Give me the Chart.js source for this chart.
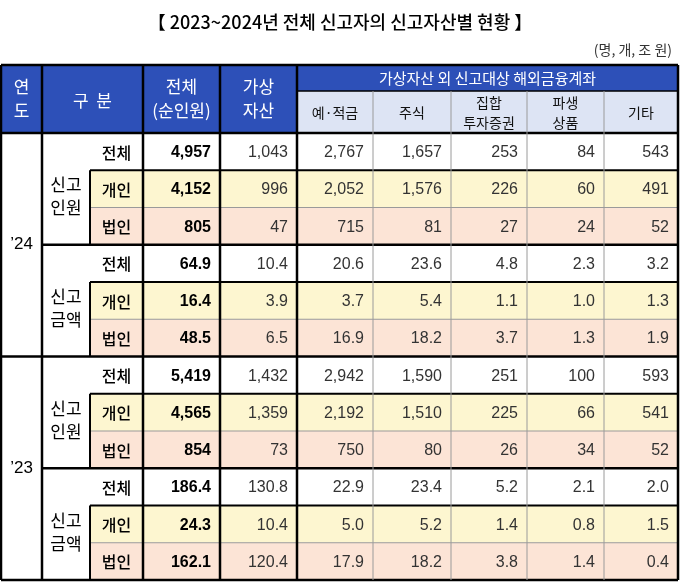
<!DOCTYPE html>
<html><head><meta charset="utf-8">
<script src="https://cdn.jsdelivr.net/npm/chart.js@4"></script>
<style>html,body{margin:0;padding:0;background:#fff}#w{width:680px;height:582px}</style>
</head><body><div id="w"><canvas id="c"></canvas></div>
<script>
const years = ["’24", "’23"];
const groups = ["신고\n인원", "신고\n금액"];
const rowTypes = ["전체", "개인", "법인"];
const columns = ["전체\n(순인원)", "가상\n자산", "예·적금", "주식", "집합\n투자증권", "파생\n상품", "기타"];
const y24count = [[4957,1043,2767,1657,253,84,543],[4152,996,2052,1576,226,60,491],[805,47,715,81,27,24,52]];
const y24amount = [[64.9,10.4,20.6,23.6,4.8,2.3,3.2],[16.4,3.9,3.7,5.4,1.1,1.0,1.3],[48.5,6.5,16.9,18.2,3.7,1.3,1.9]];
const y23count = [[5419,1432,2942,1590,251,100,593],[4565,1359,2192,1510,225,66,541],[854,73,750,80,26,34,52]];
const y23amount = [[186.4,130.8,22.9,23.4,5.2,2.1,2.0],[24.3,10.4,5.0,5.2,1.4,0.8,1.5],[162.1,120.4,17.9,18.2,3.8,1.4,0.4]];
const blocks = [y24count, y24amount, y23count, y23amount];

const colEdges = [1,42,90,143,220,297,373,451,527,604,678];
const rowTop = 133, rowH = 37.25, headTop = 65, headMid = 91;
const F = '"Noto Sans CJK KR", "Noto Sans", sans-serif';
const N = '"Liberation Sans", "Noto Sans CJK KR", sans-serif';

const tablePlugin = {
  id: 'table',
  afterDraw(chart) {
    const ctx = chart.ctx, xs = chart.scales.x, ys = chart.scales.y;
    const X = v => xs.getPixelForValue(v), Y = v => ys.getPixelForValue(v);
    const rect = (x0,y0,x1,y1,c)=>{ctx.fillStyle=c;ctx.fillRect(X(x0),Y(y0),X(x1)-X(x0),Y(y1)-Y(y0));};
    const line = (x0,y0,x1,y1,c,w)=>{ctx.strokeStyle=c;ctx.lineWidth=w;ctx.beginPath();ctx.moveTo(X(x0),Y(y0));ctx.lineTo(X(x1),Y(y1));ctx.stroke();};
    const text = (s,x,y,align,font,color,lh)=>{
      ctx.font=font;ctx.fillStyle=color;ctx.textAlign=align;ctx.textBaseline='middle';
      const parts=s.split('\n');const h=lh||22;
      parts.forEach((p,i)=>ctx.fillText(p,X(x),Y(y+(i-(parts.length-1)/2)*h)));
    };
    ctx.save();
    text("【 2023~2024년 전체 신고자의 신고자산별 현황 】",340,22,'center','500 18px '+F,'#000');
    text("(명, 개, 조 원)",672,50,'right','14px '+F,'#333');
    const blue='#2D50B8', light='#DDE4F4';
    rect(colEdges[0],headTop,colEdges[10],rowTop,blue);
    rect(colEdges[5],headMid,colEdges[10],rowTop,light);
    const nRows = 12;
    for(let r=0;r<nRows;r++){
      const t=r%3, y0=rowTop+r*rowH, y1=y0+rowH;
      if(t===1) rect(colEdges[2],y0,colEdges[10],y1,'#FDF6D0');
      if(t===2) rect(colEdges[2],y0,colEdges[10],y1,'#FCE4D6');
    }
    const hf='17px '+F;
    text("연\n도",(colEdges[0]+colEdges[1])/2,99,'center',hf,'#fff',24);
    text("구  분",(colEdges[1]+colEdges[3])/2,101,'center',hf,'#fff');
    text(columns[0],(colEdges[3]+colEdges[4])/2,99,'center',hf,'#fff',24);
    text(columns[1],(colEdges[4]+colEdges[5])/2,99,'center',hf,'#fff',24);
    text("가상자산 외 신고대상 해외금융계좌",(colEdges[5]+colEdges[10])/2,78,'center','15px '+F,'#fff');
    for(let c=2;c<7;c++) text(columns[c],(colEdges[c+3]+colEdges[c+4])/2,113,'center','14px '+F,'#111',20);
    blocks.forEach((blk,b)=>{
      const isCount = b%2===0;
      blk.forEach((row,t)=>{
        const r=b*3+t, yc=rowTop+r*rowH+rowH/2+1;
        text(rowTypes[t],(colEdges[2]+colEdges[3])/2,yc,'center','500 16px '+F,'#000');
        row.forEach((v,c)=>{
          const s=isCount? v.toLocaleString('en-US') : v.toFixed(1);
          text(s,colEdges[c+3+1]-9,yc,'right',(c===0?'bold ':'')+'16px '+N,c===0?'#000':'#333');
        });
      });
      text(groups[b%2],(colEdges[1]+colEdges[2])/2,rowTop+b*3*rowH+rowH*1.7,'center','17px '+F,'#000',23);
    });
    years.forEach((yl,i)=>text(yl,(colEdges[0]+colEdges[1])/2,rowTop+(i*6+3)*rowH,'center','17px '+N,'#000'));
    const grey='#9a9a9a', blk='#000';
    for(let r=1;r<nRows;r++){
      const y=rowTop+r*rowH, t=r%3;
      if(r%6===0) line(colEdges[0],y,colEdges[10],y,blk,2.5);
      else if(t===0) line(colEdges[1],y,colEdges[10],y,blk,2.5);
      else if(t===1) line(colEdges[2],y,colEdges[10],y,blk,2);
      else line(colEdges[2],y,colEdges[10],y,grey,1);
    }
    line(colEdges[5],headMid,colEdges[10],headMid,blk,1.5);
    line(colEdges[0],rowTop,colEdges[10],rowTop,blk,2.5);
    line(colEdges[0],headTop,colEdges[10],headTop,blk,2.5);
    line(colEdges[0],580,colEdges[10],580,blk,2.5);
    [0,1,3,4,5,10].forEach(i=>line(colEdges[i],headTop,colEdges[i],580,blk,2.5));
    for(let r=0;r<nRows;r+=3) line(colEdges[2],rowTop+(r+1)*rowH,colEdges[2],rowTop+(r+3)*rowH,blk,2);
    [6,7,8,9].forEach(i=>line(colEdges[i],headMid,colEdges[i],580,grey,1));
    ctx.restore();
  }
};

new Chart(document.getElementById('c'), {
  type: 'scatter',
  data: { datasets: [{ data: [], pointRadius: 0 }] },
  options: {
    responsive: true, maintainAspectRatio: false, animation: false,
    layout: { padding: 0 },
    plugins: { legend: { display: false }, tooltip: { enabled: false } },
    scales: {
      x: { type: 'linear', min: 0, max: 680, display: false },
      y: { type: 'linear', min: 0, max: 582, reverse: true, display: false }
    }
  },
  plugins: [tablePlugin]
});
</script></body></html>
